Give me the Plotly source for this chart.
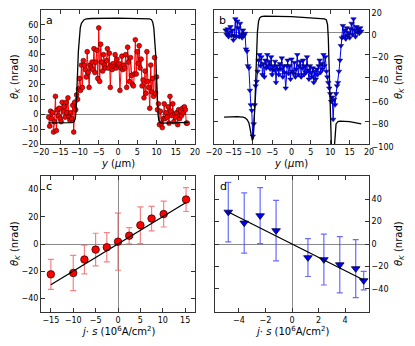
import numpy as np
import plotly.graph_objects as go

# panel a: Kerr rotation scan (red), measured every 0.25 um from -18 to 18
a_theta = [-2, -8, 2, -3, 1, -12, -5, 12, -11, 3, -1, 4, -3, -5, 8, 2, 5, -2, 8, 1,
           11, -2, -4, 1, -3, 6, -12, 8, 3, 13, 10, 17, 24, 16, 33, 18, 36, 33, 30, 25,
           42, 28, 18, 33, 31, 35, 30, 44, 28, 35, 43, 24, 58, 22, 47, 35, 29, 40, 33, 31,
           36, 44, 31, 41, 18, 33, 30, 34, 32, 40, 31, 37, 33, 34, 16, 31, 39, 30, 33, 31,
           40, 18, 45, 35, 22, 38, 26, 20, 19, 27, 50, 27, 42, 34, 46, 31, 37, 19, 23, 11,
           29, 14, 42, 22, 18, 4, 33, 15, 24, 12, 38, 14, 25, 3, 7, -7, 2, -6, -9, -3,
           7, -3, 1, -2, 5, -6, 12, 2, -1, 7, -5, 0, -2, 1, -7, 3, -3, 2, -1, 4,
           1, 5, 3, -6, -6]
a_y = np.linspace(-18, 18, len(a_theta))

# panel a: model curve (black)
a_model_y = [-18.1, -14, -12, -11.4, -11.1, -10.9, -10.7, -10.5, -10.3, -10.1, -9.8, -9.5,
             -9.2, -8.8, -8.2, -7, 0, 7, 8.2, 8.7, 9.0, 9.3, 9.6, 9.8, 10.0, 10.2, 10.4,
             10.6, 10.9, 11.3, 14, 18.3]
a_model = [-5.8, -5.8, -5.6, -5, -3, 2, 12, 28, 42, 52, 58, 61, 62.5, 63.5, 64, 64.3, 64.5,
           64.3, 64, 63.5, 62, 58, 50, 40, 25, 10, 0, -4, -5.5, -6, -5.8, -5.5]

# panel b: Kerr rotation scan (blue), measured every 0.25 um from -17 to 18
b_theta = [2, -2, 3, -4, 0, 5, -3, 2, -7, -3, 12, -4, 10, 4, -4, 8, -2, -5, 2, -3,
           -1, -15, -17, -30, -32, -52, -65, -70, -93, -82, -65, -48, -44, -35, -25, -20, -30, -22, -38, -28,
           -40, -25, -32, -20, -30, -26, -33, -22, -38, -30, -34, -26, -45, -30, -33, -38, -28, -33, -23, -40,
           -30, -36, -50, -30, -25, -37, -30, -42, -24, -35, -37, -27, -40, -33, -20, -38, -30, -26, -40, -32,
           -25, -38, -30, -36, -22, -34, -42, -30, -36, -40, -32, -45, -35, -42, -33, -38, -30, -25, -36, -28,
           -33, -20, -30, -22, -35, -40, -45, -50, -55, -62, -58, -78, -60, -65, -55, -48, -45, -35, -25, -12,
           -5, 6, -4, 2, -6, 4, -3, 0, -5, 3, 8, -2, 12, 2, -4, 5, 0, 3, -1, 4,
           1]
b_y = np.linspace(-17, 18, len(b_theta))

# panel b: model curve (black)
b_model_y = [-17.4, -14, -12.5, -12, -11.5, -11, -10.7, -10.4, -10.1, -9.9, -9.7, -9.4, -9.1,
             -8.8, -8.5, -8.2, -7.8, -7, 0, 8, 8.5, 9.0, 9.3, 9.5, 9.7, 9.9, 10.1, 10.4,
             10.7, 11.0, 11.2, 11.5, 12, 12.5, 15, 18]
b_model = [-76, -75.5, -76, -76.5, -78, -81, -86, -93, -97, -95, -85, -60, -25,
           0, 10, 13, 14, 14.5, 14, 12.5, 12, 11, 7, -5, -30, -65, -95, -115,
           -120, -105, -90, -82, -80, -79.5, -80, -82]

# panel c: current dependence (red)
c_js = [-15, -10, -7.5, -5, -2.5, 0, 2.5, 5, 7.5, 10.2, 15.2]
c_theta = [-22.3, -21.3, -11.4, -4.1, -2.4, 1.7, 6.1, 13.8, 18.7, 22, 32.7]
c_err = [11, 13, 10.5, 12, 10.7, 21, 6, 13.5, 9, 9.5, 8.8]
c_fit_js = [-15, 15.2]
c_fit = [-30, 30.5]

# panel d: current dependence (blue)
d_js = [-4.8, -3.6, -2.4, -1.2, 1.2, 2.4, 3.6, 4.8, 5.4]
d_theta = [28.4, 18.7, 25.2, 11.9, -12.1, -13.9, -18.4, -21.9, -32.6]
d_err = [26.5, 26.8, 24.9, 27, 16.8, 22.6, 25, 25.8, 8.3]
d_fit_js = [-4.8, 5.4]
d_fit = [28.5, -32]

# the page body keeps its default 8px margin, so the figure is 8px smaller
OFF = 8
W, H = 415 - OFF, 346 - OFF
FONT = "DejaVu Sans"


def dom_x(l, r):
    return [(l - OFF) / W, (r - OFF) / W]


def dom_y(t, b):
    return [1 - (b - OFF) / H, 1 - (t - OFF) / H]


fig = go.Figure()

fig.add_trace(go.Scatter(x=a_y, y=a_theta, mode="lines+markers",
                         line=dict(color="#ff0000", width=1),
                         marker=dict(symbol="circle", size=4.8, color="#ff0000",
                                     line=dict(color="#400000", width=0.6)),
                         xaxis="x", yaxis="y"))
fig.add_trace(go.Scatter(x=a_model_y, y=a_model, mode="lines",
                         line=dict(color="black", width=1.3), xaxis="x", yaxis="y"))

fig.add_trace(go.Scatter(x=b_y, y=b_theta, mode="lines+markers",
                         line=dict(color="#0000ff", width=1),
                         marker=dict(symbol="triangle-down", size=4.8, color="#0000ff",
                                     line=dict(color="#000040", width=0.5)),
                         xaxis="x2", yaxis="y2"))
fig.add_trace(go.Scatter(x=b_model_y, y=b_model, mode="lines",
                         line=dict(color="black", width=1.3), xaxis="x2", yaxis="y2"))

fig.add_trace(go.Scatter(x=c_js, y=c_theta, mode="markers",
                         error_y=dict(type="data", array=c_err, color="rgba(240,90,90,0.75)",
                                      thickness=1.2, width=3),
                         marker=dict(symbol="circle", size=7.5, color="#ff0000",
                                     line=dict(color="#400000", width=0.8)),
                         xaxis="x3", yaxis="y3"))
fig.add_trace(go.Scatter(x=c_fit_js, y=c_fit, mode="lines",
                         line=dict(color="black", width=1.3), xaxis="x3", yaxis="y3"))

fig.add_trace(go.Scatter(x=d_js, y=d_theta, mode="markers",
                         error_y=dict(type="data", array=d_err, color="rgba(70,70,255,0.8)",
                                      thickness=1.2, width=3),
                         marker=dict(symbol="triangle-down", size=7.5, color="#0000ff",
                                     line=dict(color="#000040", width=0.8)),
                         xaxis="x4", yaxis="y4"))
fig.add_trace(go.Scatter(x=d_fit_js, y=d_fit, mode="lines",
                         line=dict(color="black", width=1.3), xaxis="x4", yaxis="y4"))

ax_common = dict(showgrid=False, showline=True, linecolor="#333", linewidth=1,
                 mirror="ticks", ticks="inside", ticklen=4, tickcolor="#333",
                 tickangle=0, automargin=False, ticklabeloverflow="allow",
                 tickfont=dict(family=FONT, size=8, color="black"),
                 zerolinecolor="#8a8a8a", zerolinewidth=1.3)
title_font = dict(family=FONT, size=10, color="black")
theta_title = "<i>θ<sub>K</sub></i> (nrad)"
y_title = "<i>y</i> (<i>μ</i>m)"
js_title = "<i>j</i>· <i>s</i> (10<sup>6</sup>A/cm<sup>2</sup>)"

fig.update_layout(
    width=W, height=H, showlegend=False,
    margin=dict(l=0, r=0, t=0, b=0),
    paper_bgcolor="white", plot_bgcolor="white",
    xaxis=dict(ax_common, domain=dom_x(41, 195), range=[-20, 20], dtick=5, zeroline=False,
               anchor="y"),
    yaxis=dict(ax_common, domain=dom_y(10, 144), range=[-20, 70],
               tickvals=[-20, -10, 0, 10, 20, 30, 40, 50, 60], zeroline=True, anchor="x"),
    xaxis2=dict(ax_common, domain=dom_x(214, 369), range=[-20, 20], dtick=5, zeroline=False,
                anchor="y2"),
    yaxis2=dict(ax_common, domain=dom_y(10, 144), range=[-100, 20],
                tickvals=[-100, -80, -60, -40, -20, 0, 20], zeroline=True,
                anchor="x2", side="right", ticklabelshift=3),
    xaxis3=dict(ax_common, domain=dom_x(41, 195), range=[-17.2, 17.2],
                tickvals=[-15, -10, -5, 0, 5, 10, 15], zeroline=True, anchor="y3"),
    yaxis3=dict(ax_common, domain=dom_y(176, 312), range=[-50, 50],
                tickvals=[-40, -20, 0, 20, 40], zeroline=True, anchor="x3"),
    xaxis4=dict(ax_common, domain=dom_x(215, 369), range=[-5.8, 5.8],
                tickvals=[-4, -2, 0, 2, 4], zeroline=True, anchor="y4"),
    yaxis4=dict(ax_common, domain=dom_y(176, 312), range=[-60.5, 60.5],
                tickvals=[-40, -20, 0, 20, 40], zeroline=True, anchor="x4", side="right"),
)


def px_x(v):
    return (v - OFF) / W


def px_y(v):
    return 1 - (v - OFF) / H


# axis titles placed at the reference positions
titles = [
    (theta_title, 15, 77, -90), (theta_title, 399, 77, -90),
    (theta_title, 15, 244, -90), (theta_title, 399, 244, -90),
    (y_title, 118, 163, 0), (y_title, 291, 163, 0),
    (js_title, 118, 331, 0), (js_title, 292, 331, 0),
]
for text, tx, ty, ang in titles:
    fig.add_annotation(text=text, xref="paper", yref="paper", x=px_x(tx), y=px_y(ty),
                       xanchor="center", yanchor="middle", textangle=ang, showarrow=False,
                       font=title_font)

for letter, xr, yr in [("a", "x", "y"), ("b", "x2", "y2"), ("c", "x3", "y3"), ("d", "x4", "y4")]:
    fig.add_annotation(text=letter, xref=xr + " domain", yref=yr + " domain",
                       x=0.02, y=0.985, xanchor="left", yanchor="top", showarrow=False,
                       font=dict(family=FONT, size=11, color="black"))

fig.write_html("out.html")
